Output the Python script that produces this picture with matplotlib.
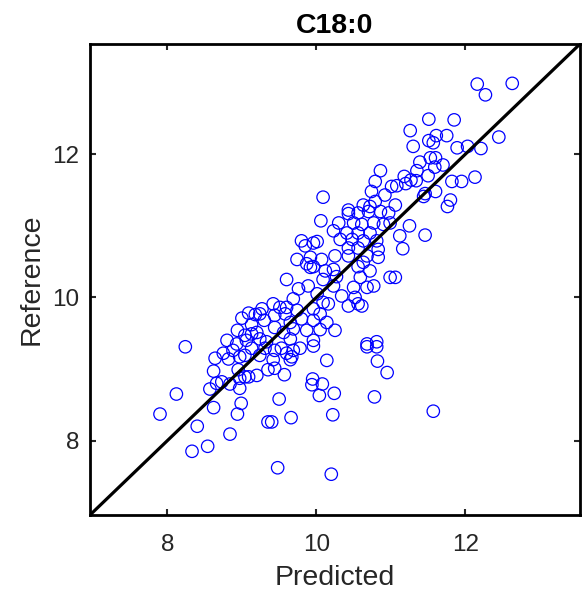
import matplotlib
matplotlib.use("Agg")

import numpy as np
import matplotlib.pyplot as plt

# --- Datos (Predicho, Referencia) ---
title = "C18:0"
xlabel = "Predicted"
ylabel = "Reference"
ticks = [8, 10, 12]
lims = [6.96, 13.54]

predicted = [
    # zona alta
    12.16, 12.63, 12.27, 11.51, 11.85, 11.26, 11.30, 11.51, 11.61, 11.75, 11.57, 11.89,
    12.03, 12.21, 12.45, 11.39, 11.53, 11.60, 11.70, 11.59, 11.35, 11.50, 11.18, 11.27,
    11.34, 11.20, 11.08, 11.82, 11.95, 12.13, 11.46, 11.60, 11.44, 11.80, 11.76, 11.06,
    11.25, 11.12, 11.46, 11.16, 11.06, 11.57,
    10.86, 10.79, 10.74, 10.09, 10.92, 11.01, 10.63, 10.43, 10.79, 10.72,
    # zona central
    10.06, 10.43, 10.56, 10.70, 10.86, 10.97, 10.30, 10.50, 10.61, 10.77, 10.90, 10.99,
    10.23, 10.41, 10.56, 10.72, 10.32, 10.48, 10.63, 10.81, 9.80, 9.96, 10.01, 9.85,
    10.43, 10.56, 10.83, 10.25, 10.43, 9.74, 9.92, 10.07, 10.68, 10.83, 9.87, 9.96,
    9.92, 10.56, 10.23, 10.63, 10.72, 10.12, 9.60, 10.09, 10.27, 10.59, 10.99, 9.89,
    9.76, 10.23, 10.50, 10.68, 10.77, 10.01, 10.34, 10.52, 10.56, 10.61, 10.43, 10.09,
    10.16, 9.69, 9.42, 9.51, 9.60, 9.58, 9.74, 9.96, 10.05, 10.14, 9.96, 9.80,
    9.65, 9.44, 9.44, 9.56, 9.69, 9.87, 10.05, 10.25, 9.65, 9.96, 10.68, 10.81,
    # zona izquierda
    9.00, 9.09, 9.18, 9.27, 9.24, 9.30, 9.13, 8.94, 9.04, 9.13, 9.20, 8.80,
    8.93, 9.24, 9.33, 9.06,
    8.24, 8.64, 8.75, 8.82, 8.88, 8.97, 9.04, 9.13, 9.24, 9.31, 8.62, 8.73,
    8.66, 8.84, 8.95, 8.97, 9.04, 9.09, 9.20, 8.97, 9.35, 8.57, 8.12, 8.62,
    8.99, 8.94, 7.90, 8.40, 9.35, 8.84, 8.54, 8.33,
    # zona baja
    10.14, 9.96, 10.68, 10.81, 10.82, 10.95, 9.95, 9.94, 10.08, 10.04, 10.24, 10.78,
    9.50, 9.57, 9.66, 9.40, 10.22, 9.48, 10.20, 9.44, 9.53, 9.69, 9.65, 9.44,
    9.42, 9.67, 9.78, 9.60,
]

reference = [
    12.98, 12.99, 12.83, 12.49, 12.48, 12.33, 12.11, 12.19, 12.26, 12.26, 12.16, 12.09,
    12.11, 12.08, 12.24, 11.89, 11.95, 11.95, 11.85, 11.82, 11.77, 11.70, 11.69, 11.64,
    11.63, 11.59, 11.56, 11.62, 11.62, 11.68, 11.45, 11.48, 11.41, 11.36, 11.27, 11.29,
    11.00, 10.86, 10.87, 10.68, 10.28, 8.41,
    11.77, 11.62, 11.48, 11.40, 11.43, 11.55, 11.29, 11.22, 11.34, 11.27,
    11.07, 11.17, 11.18, 11.20, 11.20, 11.18, 11.04, 11.04, 11.02, 11.04, 11.02, 11.04,
    10.93, 10.90, 10.90, 10.90, 10.81, 10.81, 10.79, 10.79, 10.79, 10.76, 10.78, 10.72,
    10.69, 10.69, 10.67, 10.58, 10.58, 10.53, 10.56, 10.53, 10.58, 10.56, 10.47, 10.43,
    10.42, 10.43, 10.39, 10.49, 10.37, 10.37, 10.25, 10.25, 10.29, 10.28, 10.28, 10.16,
    10.12, 10.16, 10.14, 10.14, 10.16, 10.05, 10.02, 10.00, 9.91, 9.88, 9.88, 9.93,
    9.91, 9.98, 9.91, 9.86, 9.86, 9.77, 9.82, 9.84, 9.77, 9.65, 9.68, 9.70,
    9.65, 9.75, 9.58, 9.51, 9.56, 9.54, 9.55, 9.54, 9.42, 9.40, 9.35, 9.38,
    9.71, 9.78, 9.76, 9.84, 9.77, 9.68, 9.62, 9.54, 9.47, 9.49, 9.51, 9.40,
    9.35, 9.42, 9.38, 9.40,
    9.31, 9.15, 9.22, 9.14, 9.26, 9.17, 9.19, 9.29, 9.19, 9.29, 8.97, 8.82,
    8.80, 8.79, 8.99, 8.87, 8.89, 8.89, 8.91, 8.73, 8.99, 8.72, 8.65, 8.46,
    8.52, 8.37, 8.37, 8.20, 8.26, 8.09, 7.92, 7.85,
    9.12, 9.32, 9.31, 9.31, 9.11, 8.95, 8.86, 8.78, 8.79, 8.63, 8.66, 8.61,
    8.58, 8.92, 8.32, 8.26, 8.36, 7.62, 7.53, 9.26, 9.29, 9.26, 9.13, 9.01,
    9.13, 9.17, 9.29, 9.22,
]

plt.rcParams['font.family'] = ['Liberation Sans', 'DejaVu Sans']

fig = plt.figure(figsize=(5.82, 5.99), dpi=100)
ax = fig.add_axes([90/582, 84/599, 490/582, 471/599])

ax.scatter(predicted, reference, s=80, facecolors='none', edgecolors='#0000ff',
           linewidths=0.9, zorder=2)
ax.plot(lims, lims, color='black', lw=2.3, zorder=3)

ax.set_xlim(lims)
ax.set_ylim(lims)
ax.set_xticks(ticks)
ax.set_yticks(ticks)

for s in ax.spines.values():
    s.set_linewidth(2.0)
    s.set_color('#000000')

ax.tick_params(direction='in', length=4, width=1.5, top=True, right=True,
               labelsize=17.5, labelcolor='#262626', color='#262626')
ax.tick_params(axis='x', pad=14)
ax.tick_params(axis='y', pad=8)
ax.set_xlabel(xlabel, fontsize=20.5, color='#262626', labelpad=6)
ax.set_ylabel(ylabel, fontsize=20.5, color='#262626', labelpad=5)
ax.set_title(title, fontsize=20.5, fontweight='bold', pad=8)

fig.savefig("out.png", dpi=100)
